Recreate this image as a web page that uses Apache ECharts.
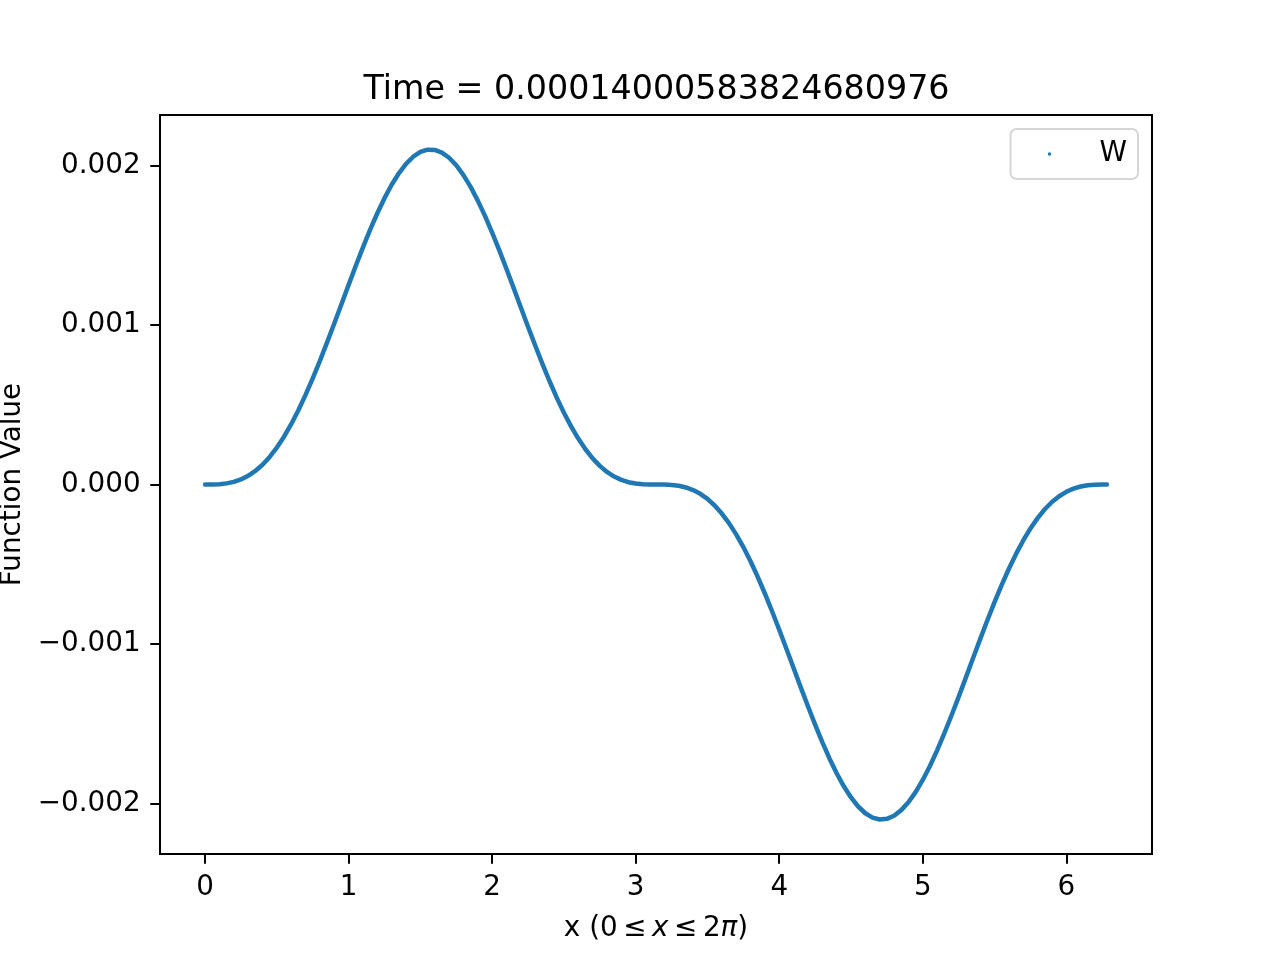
<!DOCTYPE html>
<html>
<head>
<meta charset="utf-8">
<script src="https://cdn.jsdelivr.net/npm/echarts@6/dist/echarts.min.js"></script>
<style>html,body{margin:0;padding:0;background:#fff}#c{width:1280px;height:960px}</style>
</head>
<body>
<div id="c"></div>
<script>
var titleText = 'Time = 0.00014000583824680976';
var seriesName = 'W';
var xValues = [0.00,0.05,0.10,0.15,0.20,0.25,0.30,0.35,0.40,0.45,0.50,0.55,0.60,0.65,0.70,0.75,0.80,0.85,0.90,0.95,
  1.00,1.05,1.10,1.15,1.20,1.25,1.30,1.35,1.40,1.45,1.50,1.55,1.60,1.65,1.70,1.75,1.80,1.85,1.90,1.95,
  2.00,2.05,2.10,2.15,2.20,2.25,2.30,2.35,2.40,2.45,2.50,2.55,2.60,2.65,2.70,2.75,2.80,2.85,2.90,2.95,
  3.00,3.05,3.10,3.15,3.20,3.25,3.30,3.35,3.40,3.45,3.50,3.55,3.60,3.65,3.70,3.75,3.80,3.85,3.90,3.95,
  4.00,4.05,4.10,4.15,4.20,4.25,4.30,4.35,4.40,4.45,4.50,4.55,4.60,4.65,4.70,4.75,4.80,4.85,4.90,4.95,
  5.00,5.05,5.10,5.15,5.20,5.25,5.30,5.35,5.40,5.45,5.50,5.55,5.60,5.65,5.70,5.75,5.80,5.85,5.90,5.95,
  6.00,6.05,6.10,6.15,6.20,6.25,6.283];
// W values in units of 1e-3
var wValuesMilli = [0,0.00026,0.0021,0.0070,0.0165,0.0318,0.0542,0.0847,0.1240,0.1728,0.2314,0.2999,0.3780,0.4655,0.5615,0.6651,0.7752,0.8905,1.0094,1.1302,
  1.2512,1.3706,1.4865,1.5970,1.7003,1.7947,1.8787,1.9507,2.0097,2.0544,2.0842,2.0986,2.0973,2.0803,2.0479,2.0008,1.9395,1.8653,1.7795,1.6835,
  1.5789,1.4673,1.3507,1.2309,1.1098,0.9892,0.8708,0.7563,0.6472,0.5447,0.4501,0.3642,0.2877,0.2209,0.1639,0.1168,0.0789,0.0499,0.0288,0.0145,
  0.0059,0.0016,0.0002,0.0000,-0.0004,-0.0027,-0.0082,-0.0186,-0.0350,-0.0587,-0.0906,-0.1315,-0.1820,-0.2422,-0.3124,-0.3921,-0.4810,-0.5784,-0.6832,-0.7943,
  -0.9103,-1.0296,-1.1506,-1.2714,-1.3904,-1.5055,-1.6149,-1.7169,-1.8096,-1.8917,-1.9616,-2.0182,-2.0605,-2.0878,-2.0995,-2.0955,-2.0759,-2.0410,-1.9914,-1.9279,
  -1.8517,-1.7641,-1.6664,-1.5605,-1.4480,-1.3308,-1.2106,-1.0895,-0.9691,-0.8513,-0.7375,-0.6295,-0.5283,-0.4351,-0.3507,-0.2758,-0.2106,-0.1553,-0.1097,-0.0735,
  -0.0458,-0.0259,-0.0127,-0.0049,-0.0012,-0.0001,0];
var xTicks = [0,1,2,3,4,5,6];
var yTicks = [-0.002,-0.001,0,0.001,0.002];
var yTickLabels = ['\u22120.002','\u22120.001','0.000','0.001','0.002'];

var FONT = 'DejaVu Sans';
var FS = 27.8;
var chart = echarts.init(document.getElementById('c'), null, {renderer:'canvas'});
var pts = xValues.map(function(x,i){return [x, wValuesMilli[i] * 1e-3];});
chart.setOption({
  animation:false,
  backgroundColor:'#fff',
  title:{text:titleText,left:651.5,textAlign:'center',top:69,
    textStyle:{fontFamily:FONT,fontSize:33.3,fontWeight:'normal',color:'#000'}},
  grid:{left:160,top:115,width:992,height:739,containLabel:false,outerBoundsMode:'none',
    show:true,borderColor:'#000',borderWidth:2,backgroundColor:'transparent'},
  legend:{data:[{name:seriesName,icon:'circle'}],right:142,top:129,orient:'vertical',
    itemWidth:56,itemHeight:3.5,padding:[11,11,11,37.25],
    borderColor:'#d6d6d6',borderWidth:2,borderRadius:6,backgroundColor:'rgba(255,255,255,0.8)',
    textStyle:{fontFamily:FONT,fontSize:FS,color:'#000',padding:[0,0,0,17]}},
  xAxis:{type:'value',min:-0.314,max:6.597,
    name:'{n|x (0\u2009\u2264\u2009}{i|x}{n|\u2009\u2264\u20092}{i|\u03c0}{n|)}',nameLocation:'middle',nameGap:61,
    nameTextStyle:{rich:{n:{fontFamily:FONT,fontSize:FS,color:'#000'},i:{fontFamily:FONT,fontStyle:'italic',fontSize:FS,color:'#000'}}},
    axisLine:{show:true,onZero:false,lineStyle:{color:'#000',width:2}},
    axisTick:{show:true,inside:false,length:9.7,lineStyle:{color:'#000',width:2},customValues:xTicks},
    axisLabel:{show:true,margin:19.4,fontFamily:FONT,fontSize:FS,color:'#000',customValues:xTicks,
      formatter:function(v){return String(Math.round(v));}},
    splitLine:{show:false}},
  yAxis:{type:'value',min:-0.002316,max:0.002316,
    name:'Function Value',nameLocation:'middle',nameGap:132,nameRotate:90,
    nameTextStyle:{fontFamily:FONT,fontSize:FS,color:'#000'},
    axisLine:{show:true,onZero:false,lineStyle:{color:'#000',width:2}},
    axisTick:{show:true,inside:false,length:9.7,lineStyle:{color:'#000',width:2},customValues:yTicks},
    axisLabel:{show:true,margin:19.4,fontFamily:FONT,fontSize:FS,color:'#000',customValues:yTicks,
      formatter:function(v){var k=yTicks.findIndex(function(t){return Math.abs(t-v)<1e-9;});return k>=0?yTickLabels[k]:'';}},
    splitLine:{show:false}},
  series:[{name:seriesName,type:'line',data:pts,smooth:false,showSymbol:false,symbol:'circle',
    lineStyle:{color:'#1f77b4',width:4.5,cap:'round',join:'round'},itemStyle:{color:'#1f77b4'}}]
});
</script>
</body>
</html>
